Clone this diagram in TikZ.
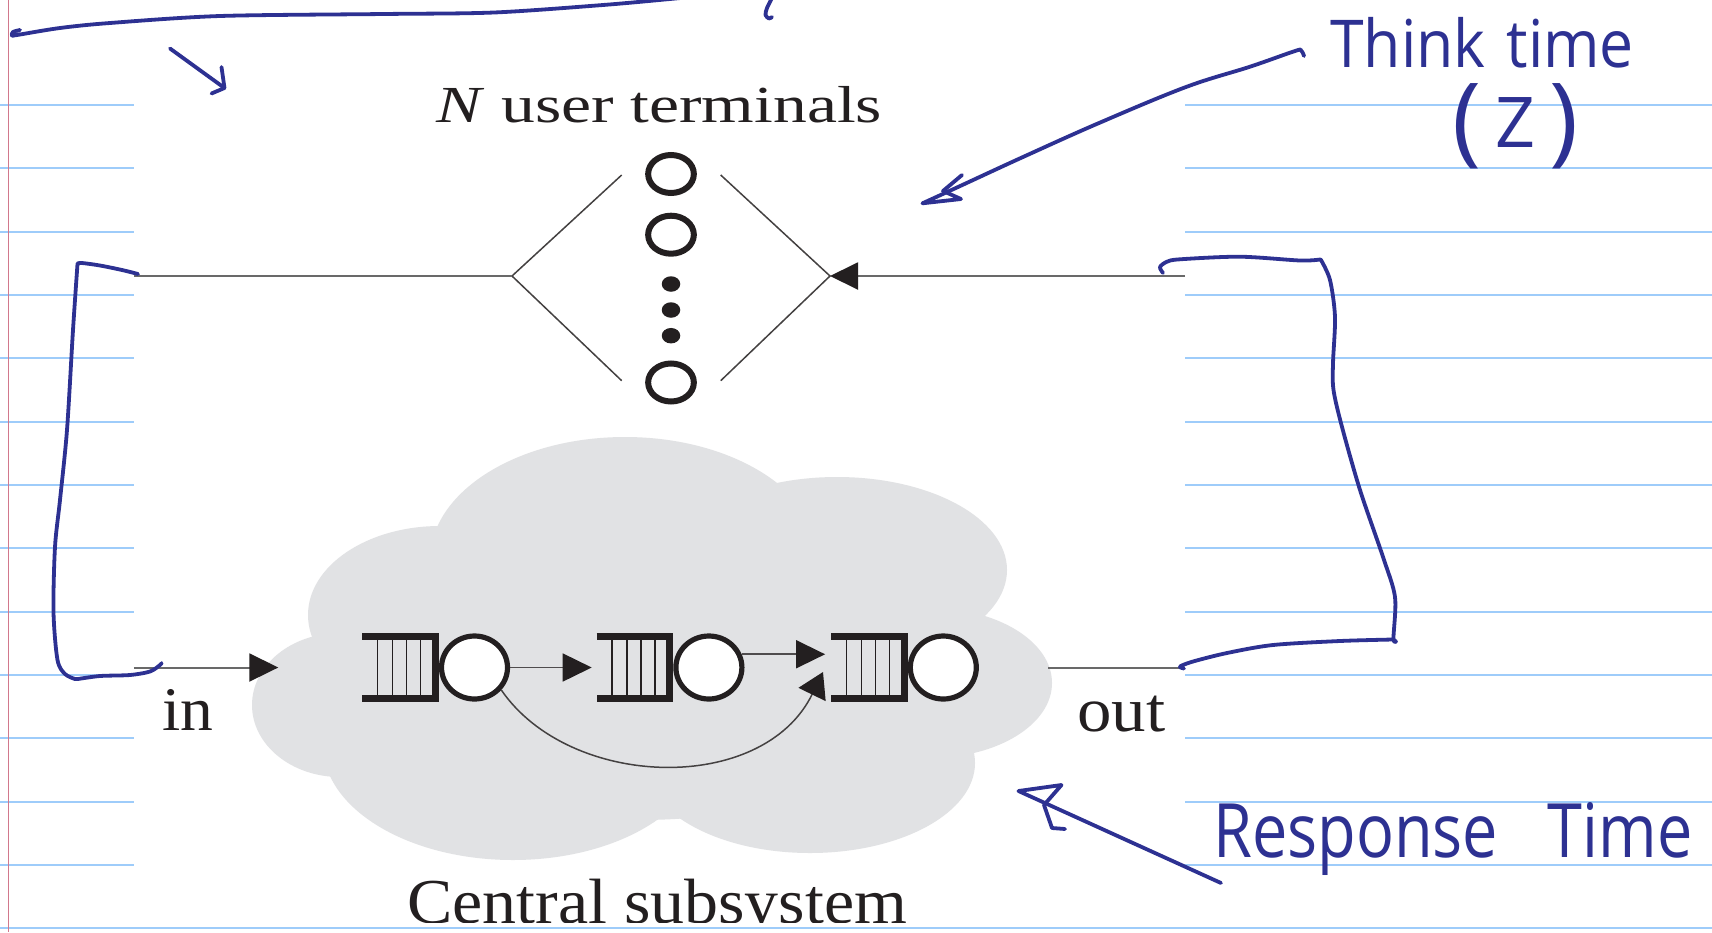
\documentclass[tikz,border=0pt]{standalone}
\usepackage{fontspec}
\usepackage{graphicx}
\setmainfont{Liberation Serif}
\newfontfamily\handfont{Open Sans}
\usetikzlibrary{arrows.meta,shapes.geometric}
\definecolor{pen}{RGB}{45,49,146}
\definecolor{rulecol}{RGB}{158,204,250}
\definecolor{margincol}{RGB}{210,120,140}
\definecolor{cloudcol}{RGB}{225,226,228}
\definecolor{inkcol}{RGB}{35,31,32}
\definecolor{flowcol}{RGB}{105,105,105}
\begin{document}
\begin{tikzpicture}[x=1pt,y=-1pt,
  ruleline/.style={draw=rulecol,line width=2.2pt},
  marginline/.style={draw=margincol,line width=1.3pt},
  flowline/.style={draw=flowcol,line width=2pt},
  flowthin/.style={draw=inkcol!80,line width=1.6pt},
  diagline/.style={draw=inkcol!85,line width=1.5pt},
  penline/.style={draw=pen,line width=3.8pt,line cap=round,line join=round},
  station/.style={ellipse,draw=inkcol,line width=5.2pt,fill=white,inner sep=0pt,minimum width=66pt,minimum height=63pt},
  terminal/.style={ellipse,draw=inkcol,line width=6pt,inner sep=0pt,minimum width=45.7pt,minimum height=38pt},
  dotnode/.style={ellipse,fill=inkcol,inner sep=0pt,minimum width=18.5pt,minimum height=15.5pt},
  figlabel/.style={inner sep=0pt,anchor=base west,text=inkcol},
  handlabel/.style={inner sep=0pt,anchor=base west,text=pen,font=\handfont},
  bigtip/.style={-{Triangle[length=29pt,width=28pt,color=inkcol]}}
]
\useasboundingbox (0,0) rectangle (1712,932);
\fill[white] (0,0) rectangle (1712,932);
% ruled paper
\foreach \k in {0,...,12}{
  \pgfmathsetmacro{\yy}{105+63.33*\k}
  \draw[ruleline] (0,\yy) -- (133.8,\yy);
  \draw[ruleline] (1185,\yy) -- (1712,\yy);
}
\draw[ruleline] (0,928.3) -- (1712,928.3);
\draw[marginline] (8.8,0) -- (8.8,932);

% cloud
\fill[cloudcol] (340,705) ellipse [x radius=88pt, y radius=72pt];
\fill[cloudcol] (440,615) ellipse [x radius=132pt, y radius=89pt];
\fill[cloudcol] (625,560) ellipse [x radius=195pt, y radius=123pt];
\fill[cloudcol] (837,570) ellipse [x radius=170pt, y radius=93pt];
\fill[cloudcol] (930,683) ellipse [x radius=122pt, y radius=75pt];
\fill[cloudcol] (810,763) ellipse [x radius=165pt, y radius=90pt];
\fill[cloudcol] (513,745) ellipse [x radius=190pt, y radius=115pt];
\fill[cloudcol] (640,670) ellipse [x radius=300pt, y radius=150pt];

% queueing stations
\foreach \n/\cx in {1/474.5,2/708.9,3/943.3}{
  \draw[inkcol,line width=6.8pt,line join=miter] (\cx-112.2,636.7) -- (\cx-39.15,636.7) -- (\cx-39.15,698.3) -- (\cx-112.2,698.3);
  \foreach \dx in {96.8,81.8,67.8,53.8}{
    \draw[inkcol,line width=1.5pt] (\cx-\dx,640) -- (\cx-\dx,695);
  }
  \coordinate (b\n) at (\cx-112.2,667.5);
  \node[station] (s\n) at (\cx,667.5) {};
}
\coordinate (b2a) at ([xshift=-5pt]b2);
\coordinate (b3a) at ([xshift=-6pt]b3);
\draw[flowthin,bigtip] (s1.east) -- (b2a);
\draw[flowthin,bigtip] (s2.22) -- (b3a |- s2.22);
\coordinate (c3) at (823,672);
\draw[diagline,-{Triangle[length=25pt,width=30pt,color=inkcol]}] (s1.-40) .. controls (570,790) and (763,795) .. (c3);

% in / out
\coordinate (inL) at (133.8,667.5);
\coordinate (inR) at (278.3,667.5);
\draw[flowline,bigtip] (inL) -- (inR);
\coordinate (outL) at (1048,667.5);
\coordinate (outR) at (1185,667.5);
\draw[flowline] (outL) -- (outR);

% terminals
\node[terminal] (t1) at (671,174) {};
\node[terminal] (t2) at (671,234.7) {};
\node[terminal] (t3) at (671,382.5) {};
\node[dotnode] (d1) at (671,284) {};
\node[dotnode] (d2) at (671,310) {};
\node[dotnode] (d3) at (671,335.7) {};
\coordinate (lv) at (512,276);
\coordinate (rv) at (830,276);
\coordinate (tl) at (621.7,175);
\coordinate (bl) at (621.7,380.7);
\coordinate (tr) at (720.7,175);
\coordinate (br) at (720.7,380.7);
\draw[diagline] (tl) -- (lv) -- (bl);
\draw[diagline] (tr) -- (rv) -- (br);
\coordinate (topL) at (133.8,276);
\coordinate (topR) at (1185,276);
\draw[flowline] (topL) -- (lv);
\draw[flowline,-{Triangle[length=28pt,width=27pt,color=inkcol]}] (topR) -- (rv);

% figure labels
\node[figlabel] (nlbl) at (436,122.7) {\resizebox{446pt}{\height}{\fontsize{52}{60}\selectfont\textit{N} user terminals}};
\node[figlabel] (inlbl) at (162,730) {\resizebox{51pt}{\height}{\fontsize{62}{70}\selectfont in}};
\node[figlabel] (outlbl) at (1077,731.7) {\resizebox{88pt}{\height}{\fontsize{63}{70}\selectfont out}};
\begin{scope}
\clip (133.8,0) rectangle (1185,922);
\node[figlabel] (central) at (407,923.7) {\resizebox{500pt}{\height}{\fontsize{64}{70}\selectfont Central subsystem}};
\end{scope}

% handwriting
\draw[penline] plot[smooth,tension=0.5] coordinates {(20,30) (13,32) (12,35.5) (17,35) (60,28) (110,23) (220,16) (384,14) (494,12.5) (603,5) (670,-1) (700,-4)};
\draw[penline] plot[smooth] coordinates {(772,-2) (767,8) (765.5,15) (769,18.5) (772,17)};
\coordinate (sa1) at (170,48.5);
\coordinate (sa2) at (224.5,88);
\draw[penline] (sa1) -- (sa2);
\draw[penline] (221.5,67) -- (sa2) -- (211.5,93.5);

\draw[penline] plot[smooth,tension=0.5] coordinates {(138,274) (122,270) (100,265.5) (82,263) (77.5,263.5)}
  -- plot[smooth,tension=0.5] coordinates {(77.5,264) (73,330) (67,430) (60,500) (55,547) (53.5,612) (57.5,660) (65,674) (75,679)}
  -- plot[smooth,tension=0.5] coordinates {(78,679) (100,676) (130,675) (150,671.5) (160,665) (161.5,663)};

\draw[penline] plot[smooth,tension=0.5] coordinates {(1163,273) (1160,267) (1167,261.7) (1180,259.3) (1240,256.7) (1300,260.5) (1320,259.5)}
  -- plot[smooth,tension=0.5] coordinates {(1321,260) (1330,280) (1335,317) (1333,363) (1333.5,390) (1342,427) (1360,490) (1383,557) (1395,597) (1393.5,638) (1396,641.5)}
  -- plot[smooth,tension=0.5] coordinates {(1393,639.5) (1340,641) (1273,645) (1227,653) (1193,661.5) (1180,666.5) (1184,668.5)};

\coordinate (thinkE) at (922.5,203.3);
\draw[penline] plot[smooth,tension=0.6] coordinates {(1304,56) (1301,50.5) (1295,51) (1250,66.7) (1186,87) (1099,123) (1023,157) (958,187) (922.5,203.3)};
\draw[penline] (962,175) -- (943,191) -- (961,199) -- (thinkE);

\coordinate (respS) at (1221,883);
\coordinate (respE) at (1018.5,791);
\draw[penline] (respS) -- (respE);
\draw[penline] (respE) -- (1061.5,785) -- (1044,805) -- (1052,828) -- (1065,829);

\node[handlabel] (think) at (1330,67) {\scalebox{0.92}[1]{\fontsize{66}{70}\selectfont Think\hspace{23pt}time}};
\node[handlabel] (zlbl) at (1452,153) {\fontsize{98}{98}\selectfont(\hspace{14pt}\raisebox{6pt}{\fontsize{70}{70}\selectfont Z}\hspace{14pt})};
\node[handlabel] (resp) at (1213,857) {\scalebox{0.84}[1]{\fontsize{75}{80}\selectfont Response\hspace{59pt}Time}};
\end{tikzpicture}
\end{document}
